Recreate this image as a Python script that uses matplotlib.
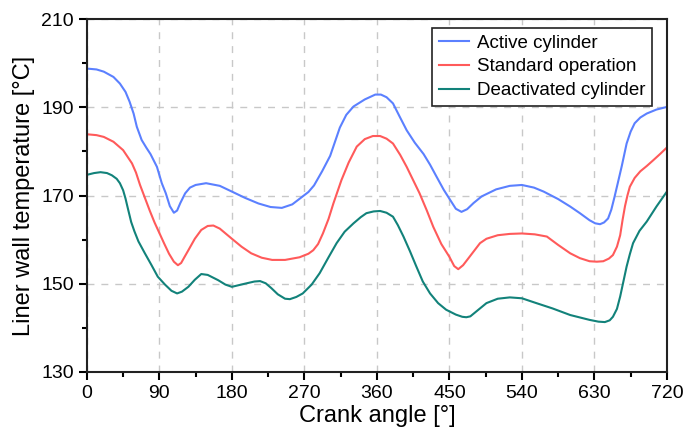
import matplotlib
matplotlib.use("Agg")
import matplotlib.pyplot as plt

plt.rcParams['font.family'] = ['Liberation Sans', 'DejaVu Sans']

# values (crank angle [deg], temperature [C])
active_x = [0, 12, 21, 33, 41, 48, 53, 58, 62, 68, 74, 79, 87, 93, 98, 103, 108, 112, 116,
            122, 128, 135, 148, 165, 180, 196, 213, 228, 242, 255, 265, 275, 282, 292, 302,
            314, 322, 331, 345, 358, 365, 372, 380, 388, 397, 407, 418, 426, 434, 443, 451,
            458, 465, 472, 480, 490, 508, 525, 540, 555, 567, 585, 600, 612, 624, 631, 637,
            642, 647, 651, 655, 659, 664, 670, 675, 680, 687, 695, 707, 720]
active_y = [198.8, 198.6, 198.1, 196.9, 195.4, 193.5, 191.3, 188.6, 185.6, 182.6, 180.8,
            179.4, 176.5, 172.8, 170.5, 167.6, 166.1, 166.6, 168.3, 170.5, 171.8, 172.4, 172.8,
            172.2, 170.9, 169.5, 168.2, 167.4, 167.2, 168.0, 169.4, 170.8, 172.3, 175.5, 179.0,
            185.4, 188.3, 190.2, 191.8, 192.9, 192.9, 192.3, 190.9, 188.0, 184.8, 182.0, 179.4,
            177.0, 174.3, 171.3, 169.0, 167.0, 166.3, 166.9, 168.3, 169.8, 171.4, 172.2, 172.4,
            171.8, 170.9, 169.2, 167.5, 166.0, 164.4, 163.7, 163.5, 163.9, 164.8, 166.8, 169.7,
            172.8, 176.7, 181.8, 184.5, 186.4, 187.7, 188.6, 189.5, 190.1]

standard_x = [0, 12, 21, 33, 45, 56, 61, 66, 72, 78, 84, 90, 96, 102, 108, 113, 117, 121,
              126, 134, 142, 150, 157, 165, 180, 192, 204, 217, 230, 246, 264, 275, 281, 287,
              293, 300, 306, 316, 325, 335, 345, 355, 364, 372, 380, 389, 397, 405, 413, 422,
              430, 440, 450, 456, 461, 467, 475, 488, 496, 510, 525, 540, 556, 571, 585, 600,
              612, 624, 633, 641, 648, 653, 658, 662, 665, 668, 671, 674, 680, 687, 695, 703,
              712, 720]
standard_y = [183.9, 183.7, 183.3, 182.2, 180.3, 177.3, 175.2, 172.4, 169.5, 166.6, 163.9,
              161.5, 159.1, 156.8, 155.0, 154.2, 154.7, 156.0, 157.6, 160.2, 162.2, 163.1,
              163.2, 162.5, 160.2, 158.4, 156.9, 155.9, 155.4, 155.4, 156.0, 156.8, 157.6,
              159.0, 161.4, 164.7, 168.2, 173.5, 177.5, 181.1, 182.8, 183.5, 183.5, 182.9,
              181.8, 179.2, 176.5, 173.5, 170.5, 166.6, 162.9, 159.0, 156.1, 154.0, 153.3,
              154.2, 156.1, 159.2, 160.2, 161.0, 161.3, 161.4, 161.2, 160.7, 158.8, 156.9,
              155.8, 155.1, 155.0, 155.1, 155.7, 156.5, 158.4, 161.0, 164.5, 167.6, 170.0,
              172.0, 174.0, 175.5, 176.7, 178.0, 179.5, 180.9]

deact_x = [0, 9, 17, 25, 31, 37, 41, 45, 48, 51, 55, 59, 64, 72, 80, 88, 97, 105, 112, 118,
           126, 134, 142, 150, 163, 172, 180, 196, 208, 215, 222, 229, 237, 246, 252, 260, 268,
           279, 289, 300, 310, 320, 331, 340, 347, 356, 364, 372, 380, 386, 393, 401, 409, 417,
           426, 436, 446, 458, 466, 471, 476, 482, 488, 496, 510, 525, 540, 558, 578, 600, 624,
           635, 643, 649, 653, 658, 662, 666, 670, 674, 678, 686, 695, 707, 720]
deact_y = [174.7, 175.1, 175.3, 175.1, 174.6, 173.8, 172.8, 171.2, 169.3, 167.0, 164.0,
           161.9, 159.6, 156.9, 154.3, 151.6, 149.8, 148.4, 147.8, 148.2, 149.3, 150.9, 152.2,
           152.0, 150.8, 149.8, 149.3, 150.0, 150.5, 150.6, 150.1, 149.0, 147.6, 146.6, 146.5,
           147.0, 147.8, 149.8, 152.4, 156.0, 159.2, 161.8, 163.7, 165.1, 166.0, 166.4, 166.5,
           166.1, 165.2, 163.3, 160.7, 157.4, 153.9, 150.5, 147.8, 145.6, 144.1, 143.0, 142.5,
           142.4, 142.6, 143.5, 144.4, 145.6, 146.6, 146.9, 146.7, 145.6, 144.4, 142.9, 141.8,
           141.4, 141.3, 141.7, 142.5, 144.3, 147.1, 150.5, 153.9, 156.7, 159.2, 162.0, 164.1,
           167.5, 170.9]

labels = ["Active cylinder", "Standard operation", "Deactivated cylinder"]
colors = ["#5b80ff", "#ff5a5a", "#12827a"]

fig = plt.figure(figsize=(6.84, 4.36), dpi=100)
ax = fig.add_axes([0.127, 0.147, 0.848, 0.809])

ax.plot(active_x, active_y, color=colors[0], lw=1.5, label=labels[0], solid_joinstyle='round')
ax.plot(standard_x, standard_y, color=colors[1], lw=1.5, label=labels[1], solid_joinstyle='round')
ax.plot(deact_x, deact_y, color=colors[2], lw=1.5, label=labels[2], solid_joinstyle='round')

ax.set_xlim(0, 720)
ax.set_ylim(130, 210)
ax.set_xticks(range(0, 721, 90))
ax.set_xticks(range(45, 721, 90), minor=True)
ax.set_yticks(range(130, 211, 20))
ax.set_yticks(range(140, 211, 20), minor=True)
ax.grid(True, which='major', color='#c8c8c8', ls=(0, (5, 5)), lw=1)
ax.set_axisbelow(True)

ax.tick_params(which='major', direction='out', length=6, width=1.5, labelsize=14)
ax.tick_params(which='minor', direction='out', length=3.5, width=1.5)
for s in ax.spines.values():
    s.set_linewidth(1.5)
    s.set_color('#222222')

ax.set_xlabel("Crank angle [°]", fontsize=17, labelpad=2)
ax.set_ylabel("Liner wall temperature [°C]", fontsize=17, labelpad=4)

leg = ax.legend(loc='upper right', bbox_to_anchor=(0.975, 0.975), borderaxespad=0,
                fontsize=13.5, fancybox=False, framealpha=1, edgecolor='#222222',
                handlelength=1.6, handletextpad=0.45, labelspacing=0.35, borderpad=0.35)
leg.get_frame().set_linewidth(1.2)

fig.savefig("out.png", dpi=100)
